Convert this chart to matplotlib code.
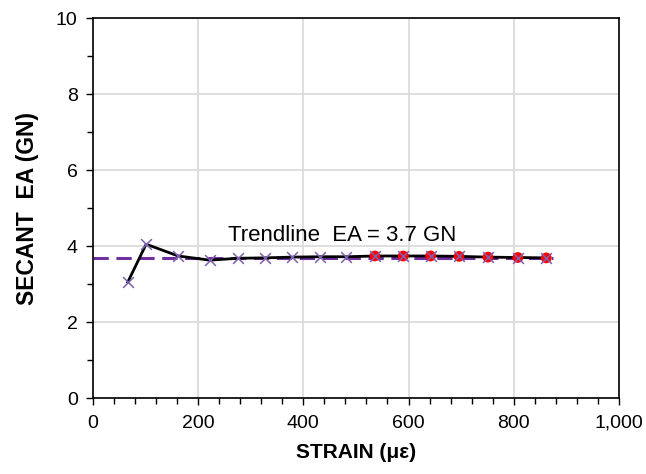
import matplotlib
matplotlib.use("Agg")
import matplotlib.pyplot as plt
from matplotlib.ticker import MultipleLocator, FuncFormatter

plt.rcParams['font.family'] = ['Liberation Sans', 'DejaVu Sans']

strain = [66, 101, 162, 222, 276, 327, 378, 431, 482, 536, 590, 642, 696, 751, 808, 862]
secant_ea = [3.05, 4.05, 3.74, 3.63, 3.68, 3.69, 3.71, 3.72, 3.72, 3.74, 3.74, 3.74, 3.73, 3.71, 3.70, 3.69]
red_strain = [536, 590, 642, 696, 751, 808, 862]
red_ea = [3.74, 3.74, 3.74, 3.73, 3.71, 3.70, 3.69]
trend_x = [0, 875]
trend_ea = 3.7
trend_label = "Trendline  EA = 3.7 GN"

fig = plt.figure(figsize=(6.46, 4.74), dpi=100)
ax = fig.add_axes([0.144, 0.160, 0.814, 0.802])

ax.plot(trend_x, [trend_ea, trend_ea], color='#7030A0', lw=2.2, ls=(0, (5, 2.5)), zorder=2)
ax.plot(strain, secant_ea, color='black', lw=2, zorder=3)
ax.scatter(red_strain, red_ea, s=60, color='red', zorder=4, edgecolors='none')
ax.scatter(strain, secant_ea, marker='x', s=60, color='#7F5FAF', linewidths=1.1, zorder=5)

ax.text(473, 4.27, trend_label, fontsize=16, ha='center', va='center', color='black')

ax.set_xlim(0, 1000)
ax.set_ylim(0, 10)
ax.xaxis.set_major_locator(MultipleLocator(200))
ax.xaxis.set_minor_locator(MultipleLocator(40))
ax.yaxis.set_major_locator(MultipleLocator(2))
ax.yaxis.set_minor_locator(MultipleLocator(1))
ax.xaxis.set_major_formatter(FuncFormatter(lambda v, p: f"{v:,.0f}"))
ax.tick_params(axis='both', which='major', direction='out', length=5, width=1, labelsize=14, color='black')
ax.tick_params(axis='x', which='major', pad=7)
ax.tick_params(axis='y', which='major', pad=6)
ax.tick_params(axis='both', which='minor', direction='out', length=4, width=1, color='black')
ax.grid(True, which='major', color='#d9d9d9', lw=1.2, zorder=0)
ax.set_axisbelow(True)
for s in ax.spines.values():
    s.set_color('black')
    s.set_linewidth(1.2)

ax.set_xlabel("STRAIN (με)", fontsize=15, fontweight='bold', labelpad=8)
ax.set_ylabel("SECANT  EA (GN)", fontsize=16.5, fontweight='bold', labelpad=12)

fig.savefig("out.png", dpi=100)
